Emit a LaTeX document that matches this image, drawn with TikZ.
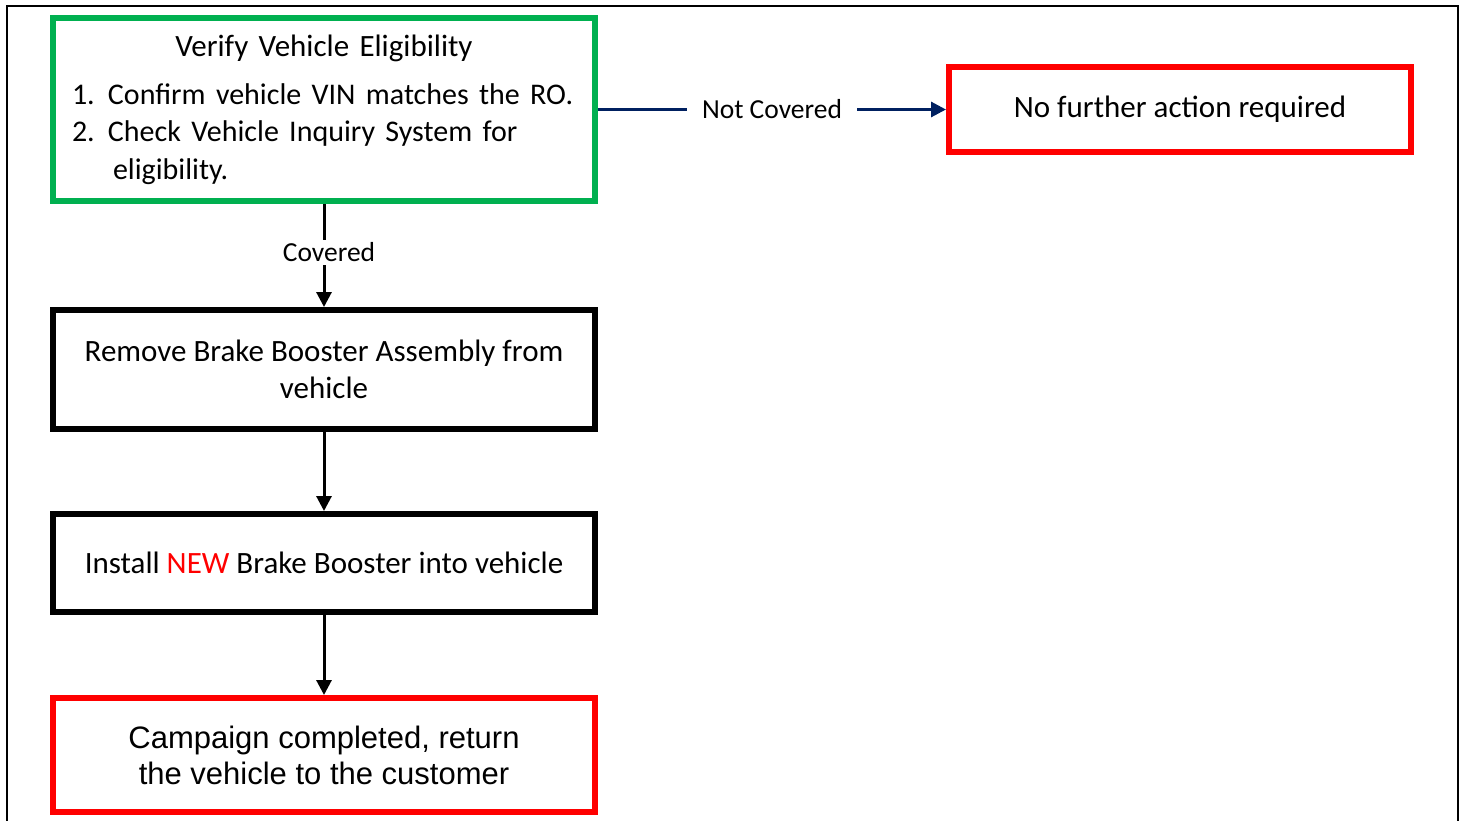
\documentclass[tikz,border=0pt]{standalone}
\usepackage{fontspec}
\setmainfont{Carlito}
\newfontfamily\arialfont{Liberation Sans}
\usepackage{xcolor}
\usetikzlibrary{arrows.meta,positioning,shadows}
\definecolor{okgreen}{HTML}{00B050}
\definecolor{stopred}{HTML}{FF0000}
\definecolor{navy}{HTML}{002060}

\begin{document}
\begin{tikzpicture}[
  x=1pt, y=1pt,
  font=\fontsize{31}{37.5}\selectfont,
  base/.style={draw, line width=6pt, fill=white, align=center, minimum width=542pt,
    drop shadow={shadow xshift=0pt, shadow yshift=-3pt, opacity=0.3, fill=blue!25}},
  okbox/.style={base, draw=okgreen},
  stepbox/.style={base, draw=black},
  endbox/.style={base, draw=stopred},
  lbl/.style={fill=white, font=\fontsize{27.5}{32}\selectfont, inner xsep=15pt, inner ysep=3pt},
  arr/.style={-{Triangle[length=15pt, width=15pt]}, line width=3pt}
]
\useasboundingbox (0,0) rectangle (1465,-820);
% page frame, open at the bottom
\draw[line width=2pt] (7,-822) |- (1458,-6) -- (1458,-822);

\node[okbox, minimum height=183pt, text width=504pt, inner xsep=19pt, align=left] (verify) at (324,-109.5) {%
  \centerline{Verify Vehicle Eligibility}\vspace{10.5pt}
  \fontsize{30}{37.5}\selectfont
  \noindent\makebox[36pt][l]{1.}\mbox{Confirm vehicle VIN matches the RO.}\\
  \makebox[36pt][l]{2.}\mbox{Check Vehicle Inquiry System for}\\
  \hspace*{41pt}eligibility.};
\node[endbox, right=348pt of verify, minimum width=462pt, minimum height=85pt] (nocover) {No further action required};
\node[stepbox, below=103pt of verify, minimum height=119pt] (remove) {Remove Brake Booster Assembly from\\vehicle};
\node[stepbox, below=79pt of remove, minimum height=98pt] (install) {Install \textcolor{stopred}{NEW} Brake Booster into vehicle};
\node[endbox, below=80pt of install, minimum height=114pt, font=\arialfont\fontsize{31}{36}\selectfont] (done) {Campaign completed, return\\the vehicle to the customer};

\draw[arr] (verify) -- node[lbl, xshift=5pt, yshift=3pt] (cov) {Covered} (remove);
\draw[arr] (remove) -- (install);
\draw[arr] (install) -- (done);
\draw[arr, draw=navy, fill=navy] (verify) -- node[lbl] (notcov) {Not Covered} (nocover);
\end{tikzpicture}
\end{document}
